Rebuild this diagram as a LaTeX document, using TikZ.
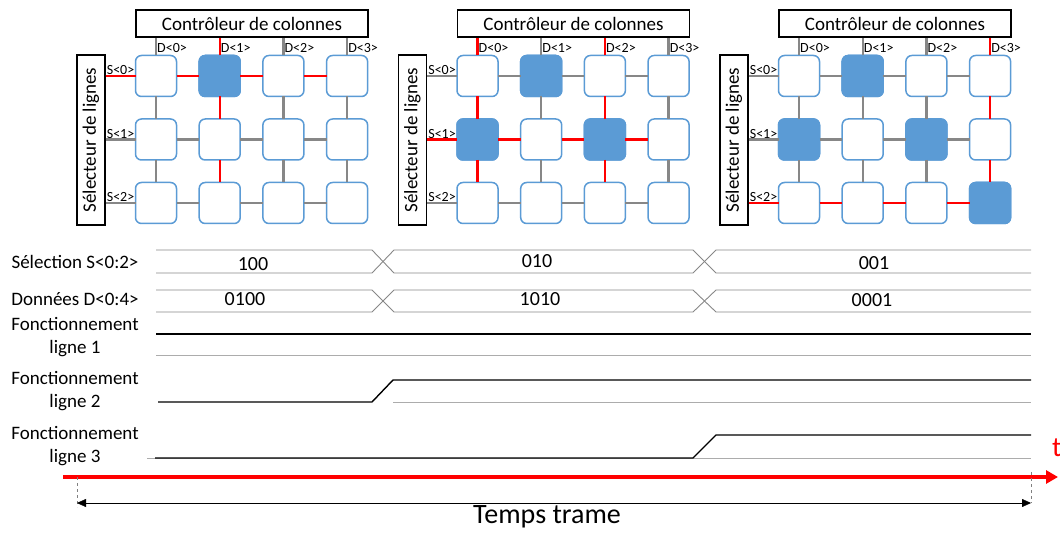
\documentclass[tikz,border=0pt]{standalone}
\usepackage{fontspec}
\setmainfont{Carlito}
\usetikzlibrary{positioning, arrows.meta}
\definecolor{cellblue}{RGB}{91,155,213}
\definecolor{wiregray}{RGB}{135,135,135}

\begin{document}
\begin{tikzpicture}[x=1pt, y=-1pt,
    cell/.style={draw=cellblue, line width=1.5pt, fill=white, rounded corners=6pt,
        minimum size=41pt, inner sep=0pt, outer sep=0pt},
    box/.style={draw, line width=1.2pt, inner sep=0pt, font=\fontsize{19}{19}\selectfont},
    wire/.style={wiregray, line width=2.4pt},
    hot/.style={red, line width=2.4pt},
    tag/.style={font=\fontsize{14}{14}\selectfont, inner sep=1pt},
    sig/.style={font=\fontsize{19}{23}\selectfont, align=center},
    val/.style={font=\fontsize{20}{20}\selectfont},
    busline/.style={wiregray, line width=0.9pt},
    hiline/.style={black, line width=1.4pt},
    loline/.style={gray!65, line width=0.9pt}]
    \useasboundingbox (0,0) rectangle (1060,534);

    % matrices: panel / selected row / data columns / lit cells
    \foreach \p/\sr/\cols/\lit in {1/0/1/01, 2/1/{0,2}/{01,10,12}, 3/2/3/{01,10,12,23}} {
        \pgfmathsetmacro\dx{(\p-1)*321.5}
        \node[box, minimum width=232pt, minimum height=27pt] (ctrl\p) at ({252+\dx},23.5) {Contrôleur de colonnes};
        \node[box, rotate=90, minimum width=170pt, minimum height=28pt] (sel\p) at ({91+\dx},140) {Sélecteur de lignes};
        \foreach \row in {0,1,2}
            \foreach \col in {0,1,2,3}
                \node[cell] (c\p\row\col) at ({156+63.7*\col+\dx},{76+63.5*\row}) {};
        \foreach \rc in \lit
            \filldraw[cellblue, line width=1.5pt, rounded corners=6pt] (c\p\rc.north west) rectangle (c\p\rc.south east);
        % gray wires
        \foreach \row in {0,1,2} {
            \draw[wire] (c\p\row0 -| sel\p.south) -- (c\p\row0);
            \node[tag, anchor=south east] at (c\p\row0.west) {S<\row>};
            \foreach \col [evaluate=\col as \nx using int(\col+1)] in {0,1,2}
                \draw[wire] (c\p\row\col) -- (c\p\row\nx);
        }
        \foreach \col in {0,1,2,3} {
            \draw[wire] (c\p0\col) -- (c\p0\col |- ctrl\p.south);
            \node[tag, anchor=south west, yshift=2pt] at (c\p0\col.north) {D<\col>};
            \draw[wire] (c\p0\col) -- (c\p1\col);
            \draw[wire] (c\p1\col) -- (c\p2\col);
        }
        % active row and data columns
        \draw[hot] (c\p\sr0 -| sel\p.south) -- (c\p\sr0);
        \foreach \col [evaluate=\col as \nx using int(\col+1)] in {0,1,2}
            \draw[hot] (c\p\sr\col) -- (c\p\sr\nx);
        \foreach \col in \cols {
            \draw[hot] (c\p0\col) -- (c\p0\col |- ctrl\p.south);
            \draw[hot] (c\p0\col) -- (c\p1\col);
            \draw[hot] (c\p1\col) -- (c\p2\col);
        }
    }

    % chronogram
    \node[sig] (sels) at (75,262) {Sélection S<0:2>};
    \node[sig] (dons) at (75,299) {Données D<0:4>};
    \node[sig] (f1) at (75,337) {Fonctionnement\\ligne 1};
    \node[sig] (f2) at (75,391) {Fonctionnement\\ligne 2};
    \node[sig] (f3) at (75,446) {Fonctionnement\\ligne 3};

    \foreach \t/\b in {250/273, 290/312} {
        \draw[busline] (156,\t) -- (372,\t) -- (394,\b) -- (693,\b) -- (716,\t) -- (1031,\t);
        \draw[busline] (156,\b) -- (372,\b) -- (394,\t) -- (693,\t) -- (716,\b) -- (1031,\b);
    }
    \node[val] (v1) at (253,264) {100};
    \node[val] (v2) at (537,261) {010};
    \node[val] (v3) at (874,263) {001};
    \node[val] (d1) at (245,299) {0100};
    \node[val] (d2) at (540,299) {1010};
    \node[val] (d3) at (872,300) {0001};

    \draw[loline] (156,355) -- (1031,355);
    \draw[hiline] (156,334) -- (1031,334);
    \draw[loline] (393,402) -- (1031,402);
    \draw[hiline] (158,402) -- (372,402) -- (393,380) -- (1031,380);
    \draw[loline] (147,458) -- (1031,458);
    \draw[hiline] (155,458) -- (693,458) -- (716,435) -- (1031,435);

    % time axis
    \coordinate (t0) at (63,477);
    \coordinate (t1) at (1058,477);
    \draw[red, line width=4pt, -{Triangle[length=12pt, width=13pt]}] (t0) -- (t1);
    \node[text=red, font=\fontsize{28}{28}\selectfont, anchor=west, inner sep=0pt] (tlab) at (1052,448) {t};

    \coordinate (m0) at (77,503);
    \coordinate (m1) at (1031,503);
    \draw[gray, dashed, thin] (77,477) -- (77,507);
    \draw[gray, dashed, thin] (1031,472) -- (m1);
    \draw[{Triangle[length=9pt, width=8pt]}-{Triangle[length=9pt, width=8pt]}, thin] (m0) -- (m1);
    \node[font=\fontsize{28}{28}\selectfont] (tt) at (547,517) {Temps trame};
\end{tikzpicture}
\end{document}
